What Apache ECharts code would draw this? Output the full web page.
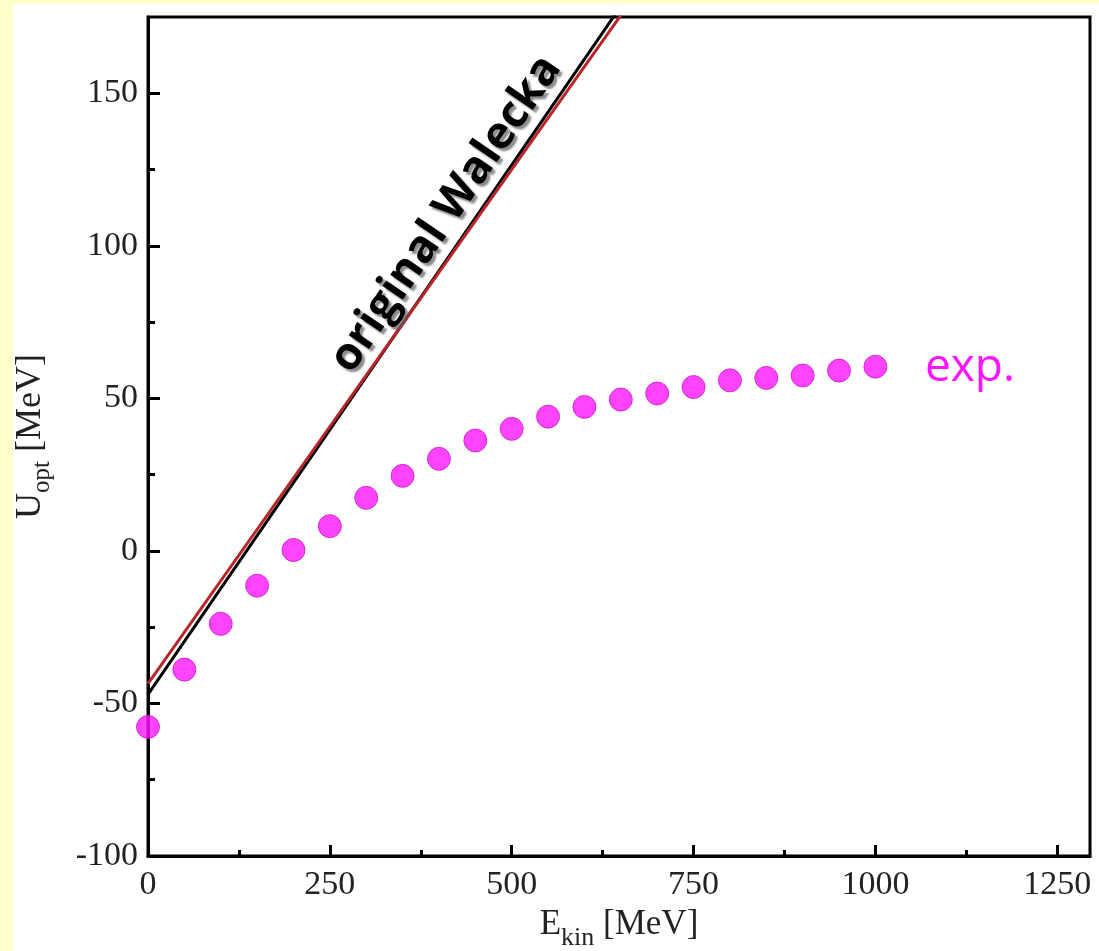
<!DOCTYPE html>
<html>
<head>
<meta charset="utf-8">
<script src="https://cdn.jsdelivr.net/npm/echarts@6/dist/echarts.min.js"></script>
<style>
  html, body { margin: 0; padding: 0; background: #ffffcc; }
  #panel { position: absolute; left: 13px; top: 4px; right: 0; bottom: 0; background: #ffffff; }
  #chart { position: absolute; left: 0; top: 0; width: 1099px; height: 951px; }
</style>
</head>
<body>
<div id="panel"></div>
<div id="chart"></div>
<script>
// Kinetic energy grid of the measured optical potential (MeV)
const energyExp = [0, 50, 100, 150, 200, 250, 300, 350, 400, 450, 500,
                   550, 600, 650, 700, 750, 800, 850, 900, 950, 1000];
// Measured Schroedinger-equivalent optical potential U_opt (MeV)
const uoptExp = [-57.7, -38.9, -23.9, -11.4, 0.3, 8.1, 17.4, 24.6, 30.2, 36.2, 40.0,
                 44.0, 47.2, 49.6, 51.6, 53.7, 55.9, 56.7, 57.5, 59.1, 60.4];

// Walecka model curves (straight in E_kin), sampled energies
const energyModel = [0, 200, 400, 600, 700];
const uoptWaleckaA = [-47.0, 22.4, 91.8, 161.2, 195.9];
const uoptWaleckaB = [-43.5, 23.9, 91.3, 158.7, 192.4];

// Axis ticks
const xMajorTicks = [0, 250, 500, 750, 1000, 1250];
const xMinorTicks = [125, 375, 625, 875, 1125];
const yMajorTicks = [-100, -50, 0, 50, 100, 150];
const yMinorTicks = [-75, -25, 25, 75, 125];

const X_MIN = 0, X_MAX = 1295, Y_MIN = -100, Y_MAX = 175;

const pairs = (xs, ys) => xs.map((x, i) => [x, ys[i]]);

const labelFont = { fontFamily: '"Liberation Serif", "Times New Roman", serif', fontSize: 34, color: '#222' };
const plain = v => String(v);

const chart = echarts.init(document.getElementById('chart'), null, { renderer: 'canvas' });

const baseX = {
  type: 'value', min: X_MIN, max: X_MAX, gridIndex: 0, position: 'bottom',
  splitLine: { show: false }
};
const baseY = {
  type: 'value', min: Y_MIN, max: Y_MAX, gridIndex: 0, position: 'left',
  splitLine: { show: false }
};

chart.setOption({
  backgroundColor: 'transparent',
  animation: false,
  grid: {
    left: 148, top: 17, right: 9, bottom: 95,
    containLabel: false, outerBoundsMode: 'none',
    show: true, borderColor: '#000', borderWidth: 3, backgroundColor: '#fff'
  },
  xAxis: [
    Object.assign({}, baseX, {
      axisLine: { show: true, onZero: false, lineStyle: { color: '#000', width: 3 } },
      axisTick: { show: true, inside: true, length: 11, lineStyle: { color: '#000', width: 3 }, customValues: xMajorTicks },
      axisLabel: Object.assign({ show: true, margin: 12, formatter: plain, customValues: xMajorTicks }, labelFont),
      name: '{m|E}{s|kin}{m| [MeV]}',
      nameLocation: 'middle',
      nameGap: 40,
      nameTextStyle: {
        rich: {
          m: { fontFamily: '"Liberation Serif", serif', fontSize: 35, color: '#222' },
          s: { fontFamily: '"Liberation Serif", serif', fontSize: 26, color: '#222', padding: [28, 0, 0, 0] }
        }
      }
    }),
    Object.assign({}, baseX, {
      axisLine: { show: false, onZero: false },
      axisTick: { show: true, inside: true, length: 6, lineStyle: { color: '#000', width: 3 }, customValues: xMinorTicks },
      axisLabel: { show: false }
    })
  ],
  yAxis: [
    Object.assign({}, baseY, {
      axisLine: { show: true, onZero: false, lineStyle: { color: '#000', width: 3 } },
      axisTick: { show: true, inside: true, length: 12, lineStyle: { color: '#000', width: 3 }, customValues: yMajorTicks },
      axisLabel: Object.assign({ show: true, margin: 10, padding: [8, 0, 0, 0], formatter: plain, customValues: yMajorTicks }, labelFont),
      name: '{m|U}{s|opt}{m| [MeV]}',
      nameLocation: 'middle',
      nameGap: 93,
      nameTextStyle: {
        rich: {
          m: { fontFamily: '"Liberation Serif", serif', fontSize: 36, color: '#222' },
          s: { fontFamily: '"Liberation Serif", serif', fontSize: 25, color: '#222', padding: [24, 0, 0, 0] }
        }
      }
    }),
    Object.assign({}, baseY, {
      axisLine: { show: false, onZero: false },
      axisTick: { show: true, inside: true, length: 7, lineStyle: { color: '#000', width: 3 }, customValues: yMinorTicks },
      axisLabel: { show: false }
    })
  ],
  series: [
    {
      name: 'Walecka A',
      type: 'line',
      xAxisIndex: 0, yAxisIndex: 0,
      data: pairs(energyModel, uoptWaleckaA),
      showSymbol: false, symbol: 'none',
      lineStyle: { color: '#000', width: 3 },
      clip: true, z: 3
    },
    {
      name: 'Walecka B',
      type: 'line',
      xAxisIndex: 0, yAxisIndex: 0,
      data: pairs(energyModel, uoptWaleckaB),
      showSymbol: false, symbol: 'none',
      lineStyle: { color: '#b8262a', width: 3 },
      clip: true, z: 3
    },
    {
      name: 'exp.',
      type: 'scatter',
      xAxisIndex: 0, yAxisIndex: 0,
      data: pairs(energyExp, uoptExp),
      symbol: 'circle', symbolSize: 23,
      itemStyle: { color: '#ff14ff', borderColor: '#c818c8', borderWidth: 1 },
      clip: false, z: 4
    }
  ],
  graphic: [
    {
      type: 'text',
      x: 446, y: 214,
      rotation: 0.97,
      z: 10,
      style: {
        text: 'original Walecka',
        font: 'bold 45px "Open Sans", "DejaVu Sans", sans-serif',
        fill: '#000',
        align: 'center',
        verticalAlign: 'middle',
        textShadowColor: 'rgba(90,90,90,0.7)',
        textShadowOffsetX: 3,
        textShadowOffsetY: 3,
        textShadowBlur: 2
      }
    },
    {
      type: 'text',
      x: 970, y: 368,
      z: 10,
      style: {
        text: 'exp.',
        font: '46px "Open Sans", "DejaVu Sans", sans-serif',
        fill: '#ff14ff',
        align: 'center',
        verticalAlign: 'middle'
      }
    }
  ]
});
</script>
</body>
</html>
